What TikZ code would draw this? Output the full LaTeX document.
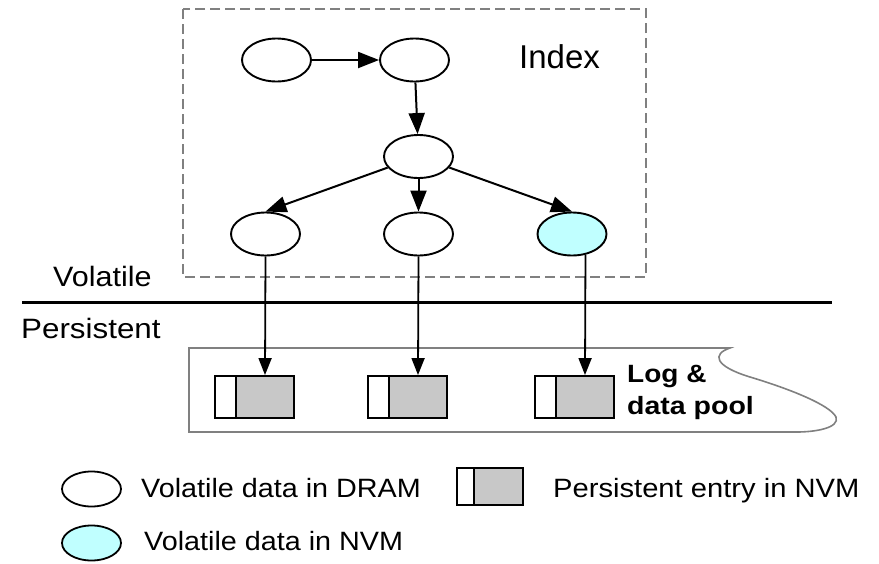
\documentclass[tikz,border=0pt]{standalone}
\usepackage{fontspec}
\usepackage{graphicx}
\setmainfont{Liberation Sans}
\usetikzlibrary{arrows.meta,shapes.geometric}
\definecolor{nvmcyan}{RGB}{192,255,255}
\definecolor{entrygray}{RGB}{200,200,200}
\definecolor{boxgray}{RGB}{128,128,128}
\newcommand{\wtxt}[3]{\scalebox{#1}[1]{\fontsize{#2}{#2}\selectfont #3}}
\tikzset{
  ell/.style={draw, ellipse, line width=1.9pt, minimum width=69pt, minimum height=43pt, inner sep=0pt, fill=white},
  lell/.style={draw, ellipse, line width=1.8pt, minimum width=59pt, minimum height=35pt, inner sep=0pt, fill=white},
  arr/.style={line width=2pt, -{Triangle[length=21pt,width=16pt]}},
  sarr/.style={line width=1.8pt, -{Triangle[length=17pt,width=13pt]}},
  wpart/.style={draw, line width=1.9pt, fill=white, minimum width=21pt, minimum height=42pt, inner sep=0pt},
  gpart/.style={draw, line width=1.9pt, fill=entrygray, minimum width=58pt, minimum height=42pt, inner sep=0pt},
  lwpart/.style={draw, line width=1.8pt, fill=white, minimum width=17pt, minimum height=37pt, inner sep=0pt},
  lgpart/.style={draw, line width=1.8pt, fill=entrygray, minimum width=49pt, minimum height=37pt, inner sep=0pt},
  lbl/.style={anchor=base west, inner sep=0pt},
}
\begin{document}
\begin{tikzpicture}[x=1pt,y=-1pt]
\useasboundingbox (0,0) rectangle (879,563);

% index box
\draw[boxgray, line width=1.6pt, dash pattern=on 10pt off 5pt] (183,9) rectangle (646,277);
\node[lbl] (index) at (519,68) {\wtxt{1}{33}{Index}};

% index nodes
\node[ell] (e1) at (276.5,60) {};
\node[ell] (e2) at (414.5,60) {};
\node[ell] (e3) at (418.5,156.5) {};
\node[ell] (b1) at (265.5,234) {};
\node[ell] (b2) at (418.5,234) {};
\node[ell, fill=nvmcyan] (b3) at (572,234) {};

\draw[arr] (e1) -- (e2);
\draw[arr] (e2) -- (e3);
\draw[arr] (e3) -- (b1.north);
\draw[arr] (e3) -- (b2.north);
\draw[arr] (e3) -- (b3.north);

% divider
\draw[line width=3pt] (22,302) -- (832,302);
\node[lbl] (vol) at (53,286.7) {\wtxt{1.09}{28}{Volatile}};
\node[lbl] (per) at (21,338) {\wtxt{1.12}{28}{Persistent}};

% pool
\draw[boxgray, line width=1.6pt] (189,348) -- (730,348)
  .. controls (712,354) and (714,366) .. (750,377)
  .. controls (790,389) and (830,405) .. (836,417)
  .. controls (840,428) and (815,432) .. (797,432)
  -- (189,432) -- cycle;

% entries
\node[wpart] (w1) at (225.5,397) {};
\node[gpart] (g1) at (265,397) {};
\node[wpart] (w2) at (378.5,397) {};
\node[gpart] (g2) at (418,397) {};
\node[wpart] (w3) at (545.5,397) {};
\node[gpart] (g3) at (585,397) {};

\draw[sarr] (b1.south) -- (g1.north);
\draw[sarr] (b2.south) -- (g2.north);
\draw[sarr] (b3.-57.5) -- (g3.north);

\node[lbl] (log1) at (627,382) {\wtxt{1.12}{25}{\bfseries Log \&}};
\node[lbl] (log2) at (627,414) {\wtxt{1.14}{25}{\bfseries data pool}};

% legend
\node[lell] (le1) at (91.5,489) {};
\node[lell, fill=nvmcyan] (le2) at (91.5,543) {};
\node[lwpart] (lw) at (465.5,486.5) {};
\node[lgpart] (lg) at (498.5,486.5) {};
\node[lbl] (t1) at (141,497) {\wtxt{1.085}{26.5}{Volatile data in DRAM}};
\node[lbl] (t2) at (553,497) {\wtxt{1.1}{26.5}{Persistent entry in NVM}};
\node[lbl] (t3) at (144,550) {\wtxt{1.085}{26.5}{Volatile data in NVM}};
\end{tikzpicture}
\end{document}
